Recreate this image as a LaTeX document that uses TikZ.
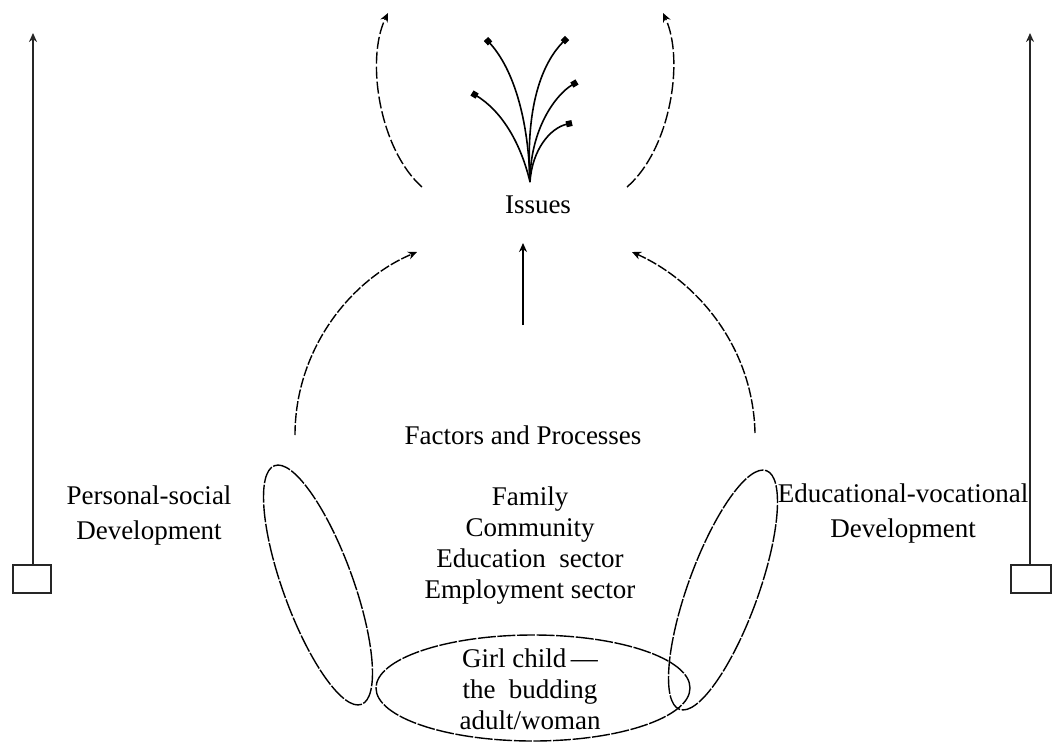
\documentclass[tikz,border=0pt]{standalone}
\usepackage{fontspec}
\setmainfont{Liberation Serif}
\usetikzlibrary{arrows.meta}
\tikzset{
  lbl/.style={font=\fontsize{13.5}{15.5}\selectfont, align=center, inner sep=0pt},
  sidelbl/.style={font=\fontsize{13.5}{17.5}\selectfont, align=center, inner sep=0pt},
  dsh/.style={line width=0.7pt, dash pattern=on 5pt off 1pt},
  tip/.style={-{Stealth[length=4.5pt,width=4pt]}},
  sq/.style={-{Square[length=3pt,width=3pt]}},
  bar/.style={line width=0.9pt, draw=black!85},
}
\begin{document}
\begin{tikzpicture}[x=0.5pt,y=-0.5pt]
\useasboundingbox (0,0) rectangle (1058,743);

% side bars
\node[bar, draw, minimum width=19pt, minimum height=14pt, inner sep=0pt] (lbox) at (32,579) {};
\node[bar, draw, minimum width=20pt, minimum height=14pt, inner sep=0pt] (rbox) at (1031,579) {};
\coordinate (ltop) at (33,33);
\coordinate (rtop) at (1030,33);
\draw[bar, tip] (lbox.north -| ltop) -- (ltop);
\draw[bar, tip] (rbox.north -| rtop) -- (rtop);

% texts
\node[lbl] (issues) at (538,205) {Issues};
\node[lbl] (fp) at (523,435) {Factors and Processes};
\node[lbl] (fam) at (530,546) {Family\\Community\\Education\ \ sector\\Employment sector};
\node[sidelbl] (psd) at (149,516) {Personal-social\\Development};
\node[sidelbl] (evd) at (903,514) {Educational-vocational\\Development};
\node[lbl] (girl) at (530,689) {Girl child\,---\\the\ \ budding\\adult/woman};

% ellipses
\draw[dsh, dash pattern=on 9pt off 0.8pt] (533,688) ellipse [x radius=157, y radius=53];
\draw[dsh, dash pattern=on 9pt off 0.8pt, rotate around={20:(318,585)}] (318,585) ellipse [x radius=35, y radius=127];
\draw[dsh, dash pattern=on 9pt off 0.8pt, rotate around={-20:(723,590)}] (723,590) ellipse [x radius=35, y radius=127];

% arrows up from factors
\coordinate (la0) at (295,435);
\coordinate (la1) at (417,252);
\coordinate (ra0) at (755,433);
\coordinate (ra1) at (632,252);
\draw[dsh, tip] (la0) .. controls (295,350) and (350,280) .. (la1);
\draw[dsh, tip] (ra0) .. controls (753,345) and (695,280) .. (ra1);
\coordinate (ma0) at (523,325);
\coordinate (ma1) at (523,243);
\draw[line width=0.8pt, tip] (ma0) -- (ma1);

% top arcs
\coordinate (ta0) at (422,187);
\coordinate (ta1) at (388,13);
\coordinate (tb0) at (627,187);
\coordinate (tb1) at (663,13);
\draw[dsh, dash pattern=on 6pt off 1.5pt, tip] (ta0) .. controls (380,150) and (365,60) .. (ta1);
\draw[dsh, dash pattern=on 6pt off 1.5pt, tip] (tb0) .. controls (670,150) and (685,60) .. (tb1);

% fan
\coordinate (f0) at (530,182);
\coordinate (f1) at (472,93);
\coordinate (f2) at (486,39);
\coordinate (f3) at (567,38);
\coordinate (f4) at (577,82);
\coordinate (f5) at (572,123);
\begin{scope}[line width=0.8pt, sq]
\draw (f0) .. controls (520,140) and (500,110) .. (f1);
\draw (f0) .. controls (528,110) and (510,65) .. (f2);
\draw (f0) .. controls (525,100) and (545,60) .. (f3);
\draw (f0) .. controls (530,130) and (555,95) .. (f4);
\draw (f0) .. controls (532,150) and (550,128) .. (f5);
\end{scope}
\end{tikzpicture}
\end{document}
